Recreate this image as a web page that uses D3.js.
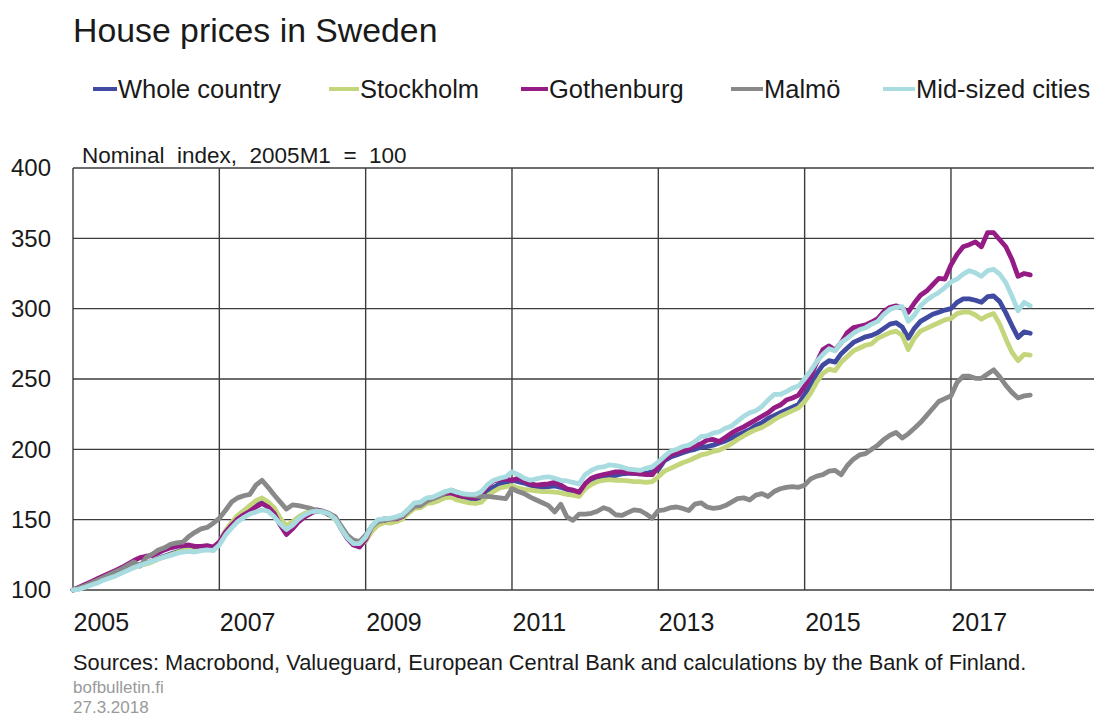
<!DOCTYPE html>
<html lang="en">

<head>
	<meta charset="utf-8">
	<script src="https://d3js.org/d3.v7.min.js"></script>
	<style type="text/css">
		body {
			margin: 0;
			background: #fff;
			font-family: "Liberation Sans", Arial, sans-serif;
		}

		.grid line {
			stroke: #3c3c3c;
			stroke-width: 1.4;
		}

		.series {
			fill: none;
			stroke-width: 4.8;
			stroke-linejoin: round;
			stroke-linecap: round;
		}
	</style>
</head>

<body>
	<svg id="chart" width="1094" height="716"></svg>
	<script type="text/javascript">
		// monthly index, 2005M1 = 100, runs to 2018M2
		var startYear = 2005;

		var wholeCountry = [
			100, 101.5, 103, 104.5, 106, 108, 110, 111, 113, 115, 116.5, 118,
			119, 120.5, 122.5, 124, 125.5, 127, 128.5, 129, 128, 129.5, 130.5, 130,
			134, 141.5, 147, 152, 155, 157, 160, 162.5, 160, 155.5, 148, 142,
			145, 149.5, 152.5, 155, 156, 155.5, 153.5, 151, 144, 137.5, 132.5, 131.5,
			135, 142.5, 149, 150.5, 150, 150.5, 152, 156, 160, 160.5, 164, 164,
			166, 167.5, 168, 166.5, 165.5, 164.5, 164, 165.5, 170, 173, 175.5, 176.5,
			178, 177, 176, 174.5, 173.5, 173, 173.5, 174, 173, 171.5, 170, 168.5,
			174, 177.5, 179, 180, 181, 181.5, 182.5, 183, 183, 182.5, 183, 184,
			185.5, 192, 194.5, 196, 197.5, 199, 200, 201.5, 202, 203, 204.5, 206,
			208, 210, 212, 214, 217, 219, 222, 224, 226, 228, 230, 232,
			239, 246, 254, 260, 263, 262, 268, 272, 276, 278, 280, 281,
			283, 286, 289, 290, 287, 279, 286, 291, 293.5, 296, 297.5, 299,
			300, 304.5, 307, 307, 306, 304.5, 308.5, 309, 305, 297, 288, 279.5,
			283.5, 282.5
		];

		var stockholm = [
			100, 101, 102.5, 104, 106, 107.5, 109.5, 111, 113, 114.5, 116, 117.5,
			118.5, 120, 122, 123.5, 125, 126.5, 128, 128.5, 127.5, 129, 130, 129.5,
			134, 142, 148, 153, 156.5, 160, 163.5, 165.5, 162.5, 158.5, 151, 145.5,
			148.5, 152, 154.5, 156, 156.5, 155.5, 153.5, 150.5, 143.5, 137.5, 132, 131,
			135, 141.5, 146, 148, 147.5, 148.5, 150.5, 154.5, 158, 158.5, 161.5, 162,
			163.5, 165.5, 166, 164, 163, 162, 161.5, 162.5, 167, 170, 172.5, 173.5,
			174, 172.5, 171.5, 171, 170.5, 170, 170, 169.5, 169, 168, 167.5, 166.5,
			172, 175, 177, 178, 178.5, 178, 178, 177.5, 177, 177, 176.5, 177,
			180.5, 184.5, 186.5, 188.5, 190.5, 192, 194, 196, 197, 198.5, 199.5, 201.5,
			204, 207, 209.5, 212, 214, 215.5, 218, 221, 223.5, 225.5, 227.5, 229.5,
			234, 240, 248, 254, 257, 256, 262, 266, 270, 272, 274, 275,
			279, 281, 283, 284, 281, 271, 279, 284, 286, 288, 290, 292,
			293, 296.5, 297.5, 297.5, 295.5, 292.5, 295, 296.5, 289, 278.5, 269, 263,
			267.5, 267
		];

		var gothenburg = [
			100, 102, 104, 106, 108, 110, 112, 114, 116, 118.5, 121, 123,
			124, 124.5, 126.5, 128.5, 130, 131, 131.5, 132, 131, 131, 131.5, 130.5,
			134, 141, 146, 150.5, 153.5, 156, 159, 161.5, 159, 154.5, 146, 139.5,
			143.5, 148.5, 152, 154.5, 157, 156, 153.5, 152, 143.5, 136.5, 132, 130.5,
			136, 145, 149.5, 149.5, 150.5, 150.5, 152, 156.5, 160.5, 161.5, 164.5, 165,
			167, 168.5, 169, 167.5, 166.5, 166, 165.5, 168, 174, 177.5, 178.5, 179,
			178, 179.5, 177.5, 175.5, 174.5, 175, 175.5, 176.5, 174.5, 172, 171, 169.5,
			175.5, 179.5, 181, 182, 183, 184, 184, 183.5, 183, 182.5, 182, 182,
			187.5, 193, 196, 197.5, 199, 200.5, 202.5, 204, 206.5, 207, 205.5, 208.5,
			211.5, 214, 216, 218.5, 221, 223.5, 226, 229.5, 231.5, 235, 236.5, 238.5,
			245, 252, 262, 271, 273.5, 270.5, 276, 283, 286.5, 287.5, 288.5, 290.5,
			293, 298, 301, 302, 300.5, 297.5, 304, 309.5, 312.5, 317, 321.5, 321,
			331, 338.5, 344, 345.5, 347.5, 344, 354, 354, 349, 344, 335, 323,
			325, 324
		];

		var malmo = [
			100, 101.5, 103, 105, 107, 109, 111, 113, 115, 117.5, 120, 117,
			123, 125.5, 128.5, 130, 132.5, 133.5, 134, 138, 141, 143.5, 144.5, 147.5,
			151, 156.5, 162.5, 165.5, 167, 168, 174.5, 178, 173, 167.5, 162.5, 157.5,
			160.5, 160, 159, 158, 156.5, 156, 154.5, 152, 145.5, 139, 135.5, 134.5,
			139, 145, 148.5, 149.5, 150.5, 151, 152.5, 156, 159.5, 160, 163, 165,
			166.5, 169, 171, 169.5, 168, 167.5, 167, 166.5, 166.5, 166, 165.5, 165,
			172, 170, 168.5, 166, 164, 162, 160, 155.5, 161, 152, 149.5, 154,
			154, 154.5, 156, 158.5, 157, 153.5, 153, 155, 157, 156.5, 154, 151,
			156.5, 157, 158.5, 159, 158, 156.5, 161, 162, 159, 158, 158.5, 160,
			162.5, 165, 165.5, 164, 167.5, 168.5, 166.5, 170, 172, 173, 173.5, 173,
			174.5, 179, 181, 182, 184.5, 185, 182, 188.5, 193, 196, 197, 200,
			203, 207, 210, 212, 208, 211, 215, 219, 224, 229, 234, 236,
			238, 247.5, 252, 252, 250.5, 250.5, 253.5, 256.5, 251.5, 245.5, 240.5, 236.5,
			238, 238.5
		];

		var midSized = [
			100, 100.5, 102, 103.5, 105, 107, 108.5, 110, 112, 114, 116, 117.5,
			119, 120.5, 122, 123.5, 124.5, 126, 127, 127.5, 127, 128, 128.5, 128,
			132, 139, 144, 148.5, 151.5, 154, 155.5, 157, 156, 152, 147, 143,
			146, 150.5, 153.5, 155.5, 156, 155.5, 154, 150.5, 143.5, 137, 133, 133,
			137.5, 145.5, 150, 150.5, 151, 152, 153.5, 157.5, 162, 162.5, 165.5, 166,
			168, 170, 171, 169.5, 168.5, 168, 168, 170, 175, 178, 179.5, 180.5,
			184, 182, 179.5, 178, 179, 180, 180.5, 179.5, 178, 177.5, 176.5, 175.5,
			182, 185, 187, 187.5, 189, 188.5, 187.5, 186, 185.5, 185, 186.5, 187.5,
			191, 195, 198.5, 200, 202, 203, 205.5, 209, 209.5, 211.5, 212.5, 215,
			216.5, 220, 223.5, 226, 227.5, 230.5, 235, 239, 239, 241, 243.5, 245,
			250, 256, 262.5, 267.5, 271.5, 270, 276, 279, 282.5, 285, 286.5, 289,
			291, 296, 299.5, 301, 301.5, 291, 295.5, 302, 306, 309, 311.5, 315,
			319, 321, 324.5, 327, 325.5, 323, 327, 328, 324.5, 318.5, 309, 298.5,
			304.5, 302
		];

		var seriesNames = ["Whole country", "Stockholm", "Gothenburg", "Malmö", "Mid-sized cities"];
		var seriesColors = ["#3f4aa0", "#c4d67c", "#951c85", "#898989", "#a9dce0"];
		var seriesValues = [wholeCountry, stockholm, gothenburg, malmo, midSized];

		var yTicks = [100, 150, 200, 250, 300, 350, 400];
		var yearTicks = [2005, 2007, 2009, 2011, 2013, 2015, 2017];

		var svg = d3.select("#chart");

		var plotLeft = 73, plotTop = 168, plotBottom = 590, plotRight = 1094;
		var monthPx = 6.097;

		var x = d3.scaleLinear()
			.domain([0, 168])
			.range([plotLeft, plotLeft + 168 * monthPx]);

		var y = d3.scaleLinear()
			.domain([100, 400])
			.range([plotBottom, plotTop]);

		// title
		svg.append("text")
			.attr("x", 73)
			.attr("y", 42)
			.attr("font-size", "33.8px")
			.attr("fill", "#1a1a1a")
			.text("House prices in Sweden");

		// legend
		var swatchX = [93, 329, 521, 731, 883];
		var labelX = [118, 360, 549, 764, 916];
		var legend = svg.append("g").attr("class", "legend");
		seriesNames.forEach(function (name, i) {
			legend.append("line")
				.attr("x1", swatchX[i])
				.attr("x2", labelX[i] - 1)
				.attr("y1", 89)
				.attr("y2", 89)
				.style("stroke", seriesColors[i])
				.style("stroke-width", 4);
			legend.append("text")
				.attr("x", labelX[i])
				.attr("y", 89)
				.attr("dy", "0.35em")
				.attr("font-size", "25.5px")
				.attr("fill", "#1a1a1a")
				.text(name);
		});

		// grid
		var grid = svg.append("g").attr("class", "grid");
		grid.selectAll("line.h")
			.data(yTicks)
			.enter()
			.append("line")
			.attr("class", "h")
			.attr("x1", plotLeft)
			.attr("x2", plotRight)
			.attr("y1", d => y(d))
			.attr("y2", d => y(d));
		grid.selectAll("line.v")
			.data(yearTicks)
			.enter()
			.append("line")
			.attr("class", "v")
			.attr("x1", d => x((d - startYear) * 12))
			.attr("x2", d => x((d - startYear) * 12))
			.attr("y1", plotTop)
			.attr("y2", plotBottom);

		// axes (labels only)
		var yAxis = d3.axisLeft(y)
			.tickValues(yTicks)
			.tickSize(0)
			.tickPadding(22);
		svg.append("g")
			.attr("transform", "translate(" + plotLeft + ",0)")
			.call(yAxis)
			.call(g => g.select(".domain").remove())
			.selectAll("text")
			.attr("font-size", "24px")
			.attr("font-family", "Liberation Sans, Arial, sans-serif")
			.attr("fill", "#1a1a1a");

		var xAxis = d3.axisBottom(x)
			.tickValues(yearTicks.map(d => (d - startYear) * 12))
			.tickFormat(d => startYear + d / 12)
			.tickSize(0)
			.tickPadding(23);
		svg.append("g")
			.attr("transform", "translate(0," + plotBottom + ")")
			.call(xAxis)
			.call(g => g.select(".domain").remove())
			.selectAll("text")
			.attr("text-anchor", "start")
			.attr("font-size", "25px")
			.attr("font-family", "Liberation Sans, Arial, sans-serif")
			.attr("fill", "#1a1a1a");

		svg.append("text")
			.attr("x", 82)
			.attr("y", 163)
			.attr("font-size", "22.5px")
			.attr("fill", "#1a1a1a")
			.style("white-space", "pre")
			.text("Nominal  index,  2005M1  =  100");

		// lines
		var line = d3.line()
			.x((d, i) => x(i))
			.y(d => y(d));

		svg.selectAll("path.series")
			.data(seriesValues)
			.enter()
			.append("path")
			.attr("class", "series")
			.attr("d", line)
			.style("stroke", (d, i) => seriesColors[i]);

		// sources
		svg.append("text")
			.attr("x", 73)
			.attr("y", 670)
			.attr("font-size", "21.8px")
			.attr("fill", "#1a1a1a")
			.text("Sources: Macrobond, Valueguard, European Central Bank and calculations by the Bank of Finland.");
		svg.append("text")
			.attr("x", 73)
			.attr("y", 693)
			.attr("font-size", "17px")
			.attr("fill", "#9a9a9a")
			.text("bofbulletin.fi");
		svg.append("text")
			.attr("x", 73)
			.attr("y", 713)
			.attr("font-size", "17px")
			.attr("fill", "#9a9a9a")
			.text("27.3.2018");
	</script>
</body>

</html>
